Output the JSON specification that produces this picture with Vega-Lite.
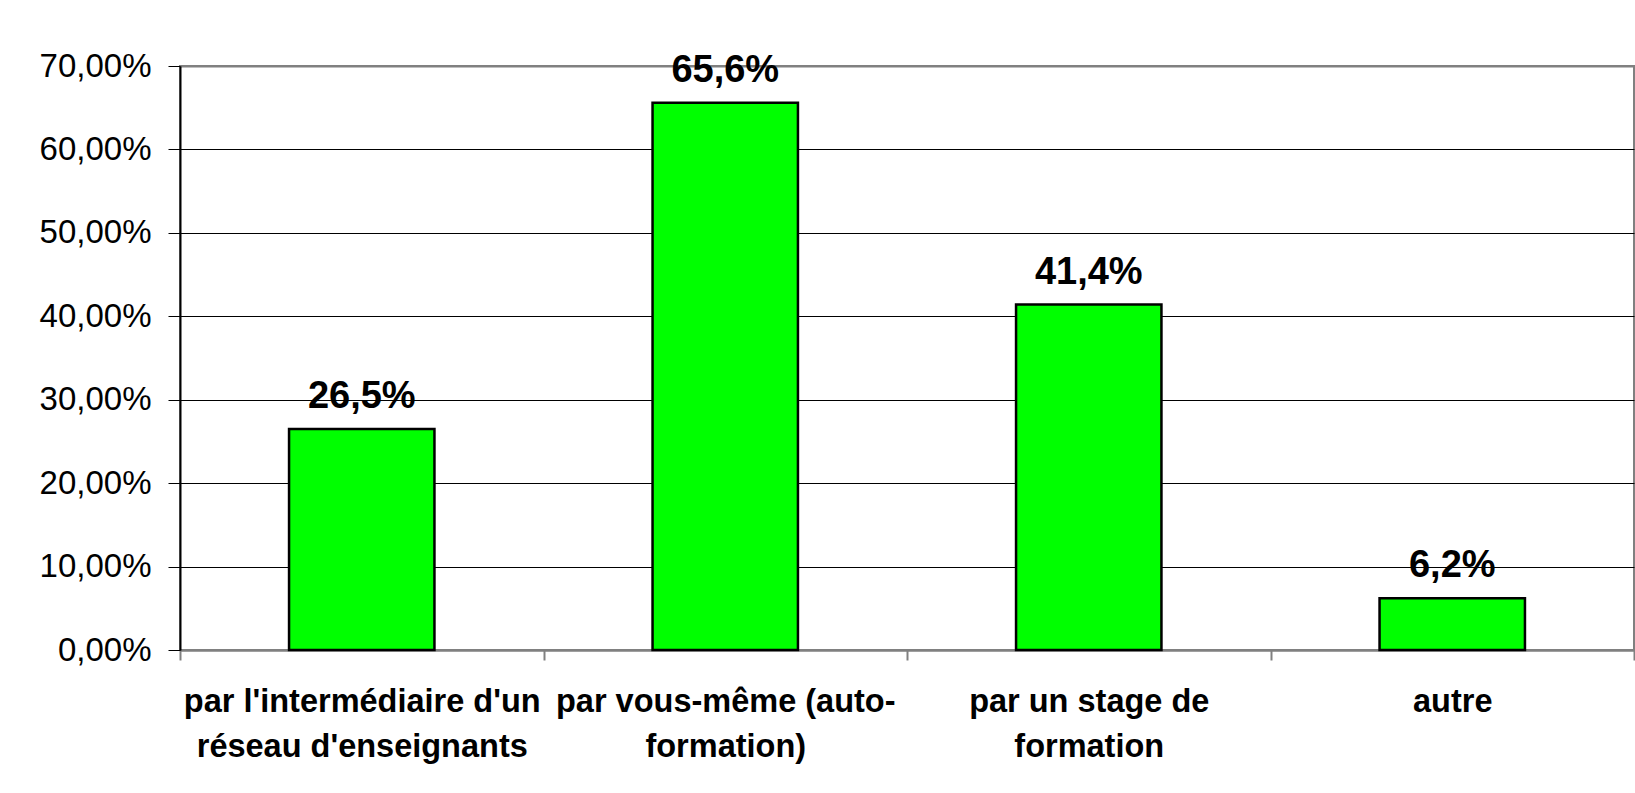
{
  "$schema": "https://vega.github.io/schema/vega-lite/v6.json",
  "width": 1454,
  "height": 584,
  "autosize": {"type": "none"},
  "padding": {"left": 180, "top": 66, "right": 1, "bottom": 143},
  "background": "white",
  "config": {
    "locale": {"number": {"decimal": ",", "thousands": " ", "grouping": [3], "currency": ["", " €"]}},
    "font": "Liberation Sans",
    "view": {"stroke": "#808080", "strokeWidth": 2}
  },
  "data": {
    "values": [
      {"cat": "par l'intermédiaire d'un\nréseau d'enseignants", "value": 0.265},
      {"cat": "par vous-même (auto-\nformation)", "value": 0.656},
      {"cat": "par un stage de\nformation", "value": 0.414},
      {"cat": "autre", "value": 0.062}
    ]
  },
  "encoding": {
    "x": {
      "field": "cat",
      "type": "nominal",
      "sort": null,
      "scale": {"paddingInner": 0, "paddingOuter": 0},
      "axis": {
        "title": null,
        "labelAngle": 0,
        "labelExpr": "split(datum.label, '\\n')",
        "labelFont": "Liberation Sans",
        "labelFontSize": 32.5,
        "labelFontWeight": "bold",
        "labelColor": "black",
        "labelLineHeight": 45,
        "labelPadding": 25,
        "labelLimit": 0,
        "tickBand": "extent",
        "tickSize": 10,
        "tickColor": "#808080",
        "tickWidth": 2,
        "domainColor": "#808080",
        "domainWidth": 2,
        "grid": false
      }
    },
    "y": {
      "field": "value",
      "type": "quantitative",
      "scale": {"domain": [0, 0.7], "nice": false},
      "axis": {
        "title": null,
        "values": [0, 0.1, 0.2, 0.3, 0.4, 0.5, 0.6, 0.7],
        "format": ".2%",
        "labelFont": "Liberation Sans",
        "labelFontSize": 33,
        "labelColor": "black",
        "labelPadding": 17,
        "tickSize": 12,
        "tickColor": "black",
        "domainColor": "black",
        "domainWidth": 2,
        "grid": true,
        "gridColor": {"condition": {"test": "datum.value >= 0.69 || datum.value <= 0.001", "value": "#808080"}, "value": "black"},
        "gridWidth": {"condition": {"test": "datum.value >= 0.69 || datum.value <= 0.001", "value": 2}, "value": 1},
        "gridOpacity": 1
      }
    }
  },
  "layer": [
    {
      "mark": {"type": "bar", "color": "#00FF00", "stroke": "black", "strokeWidth": 2.5, "width": {"band": 0.4}}
    },
    {
      "mark": {"type": "text", "font": "Liberation Sans", "fontSize": 38, "fontWeight": "bold", "baseline": "alphabetic", "dy": -21, "color": "black"},
      "encoding": {
        "text": {"field": "value", "type": "quantitative", "format": ".1%"}
      }
    }
  ]
}
